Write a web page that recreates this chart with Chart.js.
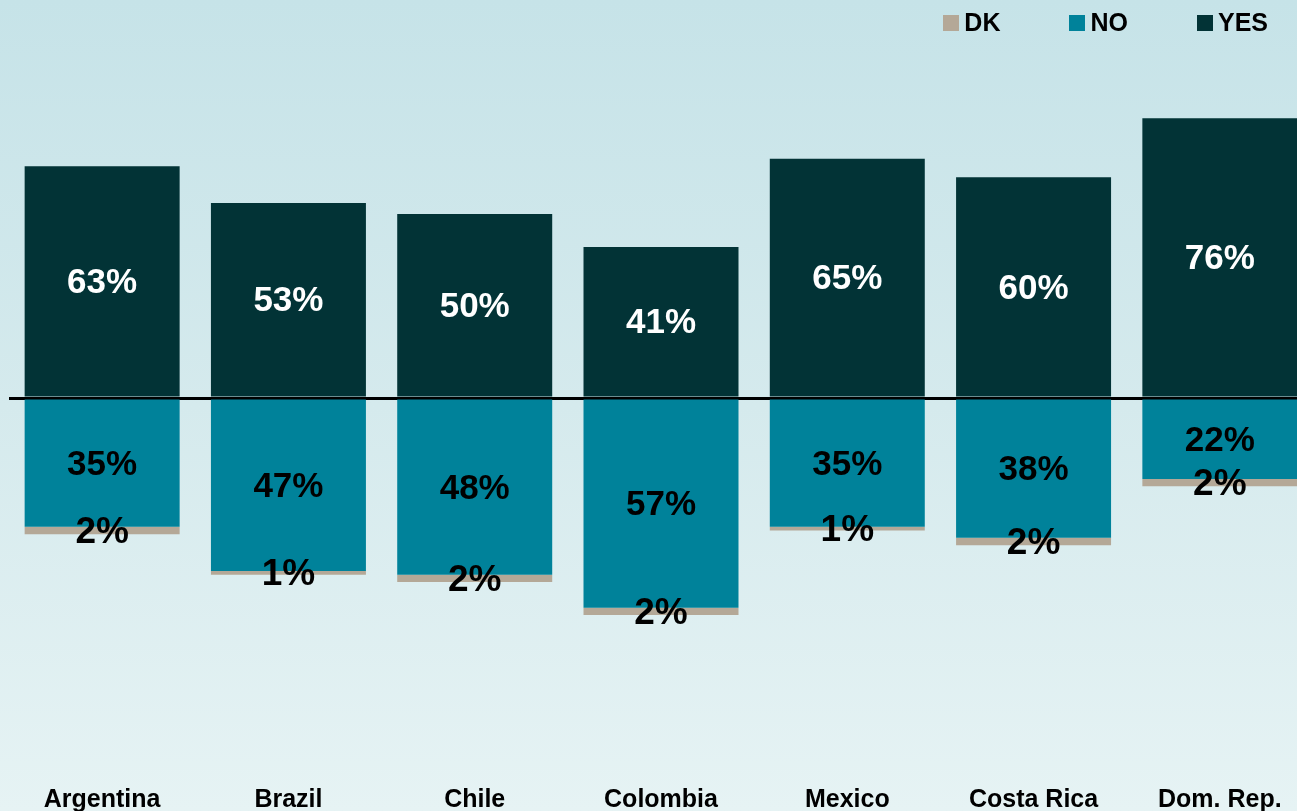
<!DOCTYPE html>
<html lang="en">
<head>
<meta charset="UTF-8">
<title>YES / NO / DK</title>
<script src="https://cdn.jsdelivr.net/npm/chart.js@4.4.1/dist/chart.umd.min.js"></script>
<style>
    html, body { margin: 0; padding: 0; overflow: hidden; }
    body {
        width: 1297px;
        height: 811px;
        background: linear-gradient(to bottom, #c6e3e8 0%, #d5eaed 50%, #e6f3f4 100%);
        font-family: "Liberation Sans", Arial, sans-serif;
    }
    .wrap { position: relative; width: 1297px; height: 811px; overflow: hidden; }
    #surveyChart { display: block; }
    .legend { position: absolute; top: 10px; right: 29px; display: flex; align-items: center; }
    .legend-item {
        display: flex;
        align-items: center;
        margin-left: 69px;
        font-size: 25px;
        font-weight: bold;
        line-height: 25px;
        color: #000;
    }
    .legend-item:first-child { margin-left: 0; }
    .legend-box { width: 16px; height: 16px; margin-right: 5px; }
</style>
</head>
<body>
<div class="wrap">
    <canvas id="surveyChart" width="1313" height="811"></canvas>
    <div class="legend" id="legend"></div>
</div>
<script>
// --- [ 1. 데이터 ] ---
const countries = ['Argentina', 'Brazil', 'Chile', 'Colombia', 'Mexico', 'Costa Rica', 'Dom. Rep.'];
const yesPct = [63, 53, 50, 41, 65, 60, 76];
const noPct  = [35, 47, 48, 57, 35, 38, 22];
const dkPct  = [2, 1, 2, 2, 1, 2, 2];

const COLOR_YES = '#023336';
const COLOR_NO  = '#00829a';
const COLOR_DK  = '#b4a897';
const FONT_FAMILY = '"Liberation Sans", Arial, sans-serif';

let surveyChart = null;

// --- [ 2. 막대 가운데 퍼센트 라벨 ] ---
const barValueLabels = {
    id: 'barValueLabels',
    afterDatasetsDraw(chart) {
        const ctx = chart.ctx;
        ctx.save();
        ctx.textAlign = 'center';
        ctx.textBaseline = 'middle';
        chart.data.datasets.forEach((dataset, i) => {
            const meta = chart.getDatasetMeta(i);
            if (meta.hidden) return;
            ctx.fillStyle = dataset.labelColor;
            ctx.font = 'bold ' + dataset.labelSize + 'px ' + FONT_FAMILY;
            meta.data.forEach((bar, j) => {
                const { x, y, base } = bar.getProps(['x', 'y', 'base'], true);
                // 'middle' 기준선이 숫자보다 살짝 위에 잡혀서 2px 내림
                ctx.fillText(Math.abs(dataset.data[j]) + '%', x, (y + base) / 2 + 2);
            });
        });
        ctx.restore();
    }
};

// --- [ 3. 차트 초기화 ] ---
function initializeChart() {
    const ctx = document.getElementById('surveyChart').getContext('2d');

    surveyChart = new Chart(ctx, {
        type: 'bar',
        data: {
            labels: countries,
            datasets: [
                { label: 'YES', data: yesPct, backgroundColor: COLOR_YES, labelColor: '#ffffff', labelSize: 35 },
                { label: 'NO', data: noPct.map(v => -v), backgroundColor: COLOR_NO, labelColor: '#000000', labelSize: 35 },
                { label: 'DK', data: dkPct.map(v => -v), backgroundColor: COLOR_DK, labelColor: '#000000', labelSize: 37 }
            ]
        },
        options: {
            responsive: false,
            animation: false,
            layout: { padding: { top: 30, left: 9, right: 0, bottom: 0 } },
            datasets: {
                bar: { barPercentage: 0.832, categoryPercentage: 1 }
            },
            plugins: {
                legend: { display: false },
                tooltip: { enabled: false }
            },
            scales: {
                x: {
                    stacked: true,
                    grid: { display: false, drawTicks: false },
                    border: { display: false },
                    ticks: {
                        color: '#000',
                        padding: 19,
                        font: { family: FONT_FAMILY, size: 25, weight: 'bold' }
                    },
                    // 국가명 줄 높이 고정
                    afterFit: scale => { scale.height = 45; }
                },
                y: {
                    stacked: true,
                    min: -100,
                    max: 100,
                    border: { display: false },
                    grid: {
                        drawTicks: false,
                        lineWidth: 3,
                        color: c => (c.tick && c.tick.value === 0 ? '#000000' : 'rgba(0,0,0,0)')
                    },
                    ticks: { display: false, stepSize: 50 }
                }
            }
        },
        plugins: [barValueLabels]
    });

    buildLegend(surveyChart);
}

// --- [ 4. 범례 (DK, NO, YES 순서) ] ---
function buildLegend(chart) {
    const legendEl = document.getElementById('legend');
    legendEl.innerHTML = '';
    chart.data.datasets.slice().reverse().forEach(ds => {
        const item = document.createElement('div');
        item.className = 'legend-item';
        const box = document.createElement('span');
        box.className = 'legend-box';
        box.style.background = ds.backgroundColor;
        const text = document.createElement('span');
        text.textContent = ds.label;
        item.appendChild(box);
        item.appendChild(text);
        legendEl.appendChild(item);
    });
}

document.addEventListener('DOMContentLoaded', initializeChart);
</script>
</body>
</html>
